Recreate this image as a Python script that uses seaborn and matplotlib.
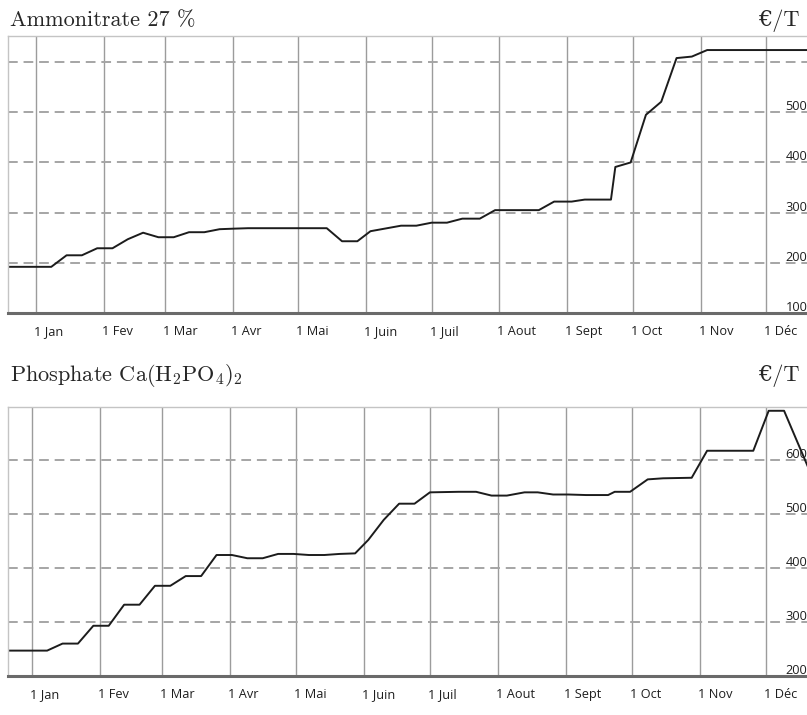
import matplotlib
matplotlib.use('Agg')
import matplotlib.pyplot as plt
import matplotlib.dates as mdates
from matplotlib.transforms import ScaledTranslation
import seaborn as sns
import pandas as pd

# Prix Ammonitrate 27 % (€/T)
ammo_dates = ['2020-12-10', '2021-01-08', '2021-01-15', '2021-01-22', '2021-01-29', '2021-02-05',
              '2021-02-12', '2021-02-19', '2021-02-26', '2021-03-05', '2021-03-12', '2021-03-19',
              '2021-03-26', '2021-04-01', '2021-04-08', '2021-05-14', '2021-05-21', '2021-05-28',
              '2021-06-03', '2021-06-17', '2021-06-24', '2021-07-01', '2021-07-08', '2021-07-15',
              '2021-07-23', '2021-07-30', '2021-08-19', '2021-08-26', '2021-09-03', '2021-09-09',
              '2021-09-21', '2021-09-23', '2021-09-30', '2021-10-07', '2021-10-14', '2021-10-21',
              '2021-10-28', '2021-11-04', '2021-12-31']
ammo_values = [192, 192, 215, 215, 229, 229,
               247, 260, 251, 251, 261, 261,
               267, 268, 269, 269, 243, 243,
               263, 274, 274, 280, 280, 288,
               288, 305, 305, 322, 322, 326,
               326, 391, 400, 495, 521, 608,
               611, 624, 624]

# Prix Phosphate Ca(H2PO4)2 (€/T)
phos_dates = ['2020-12-10', '2021-01-08', '2021-01-15', '2021-01-22', '2021-01-29', '2021-02-05',
              '2021-02-12', '2021-02-19', '2021-02-26', '2021-03-05', '2021-03-12', '2021-03-19',
              '2021-03-26', '2021-04-02', '2021-04-09', '2021-04-16', '2021-04-23', '2021-04-30',
              '2021-05-07', '2021-05-14', '2021-05-21', '2021-05-28', '2021-06-03', '2021-06-10',
              '2021-06-17', '2021-06-24', '2021-07-01', '2021-07-14', '2021-07-22', '2021-07-29',
              '2021-08-05', '2021-08-13', '2021-08-19', '2021-08-26', '2021-09-02', '2021-09-10',
              '2021-09-20', '2021-09-23', '2021-09-30', '2021-10-08', '2021-10-15', '2021-10-28',
              '2021-11-04', '2021-11-25', '2021-12-02', '2021-12-09', '2021-12-23']
phos_values = [247, 247, 260, 260, 293, 293,
               332, 332, 367, 367, 385, 385,
               424, 424, 418, 418, 426, 426,
               424, 424, 426, 427, 452, 489,
               519, 519, 540, 541, 541, 534,
               534, 540, 540, 536, 536, 535,
               535, 541, 541, 564, 566, 567,
               617, 617, 691, 691, 557]

month_labels = ['Jan', 'Fev', 'Mar', 'Avr', 'Mai', 'Juin', 'Juil', 'Aout', 'Sept', 'Oct', 'Nov', 'Déc']
ammo_yticks = [100, 200, 300, 400, 500, 600]
ammo_ylabels = ['100', '200', '300', '400', '500', '']
phos_yticks = [200, 300, 400, 500, 600]
phos_ylabels = ['200', '300', '400', '500', '600']

sns.set_style('white')
plt.rcParams['font.family'] = ['Open Sans', 'DejaVu Sans']
plt.rcParams['mathtext.fontset'] = 'cm'

W, H = 807, 715
fig = plt.figure(figsize=(W / 100, H / 100), dpi=100)


def panel(rect, dates, values, xlim, ylim, yticks, ylabels):
    ax = fig.add_axes(rect)
    df = pd.DataFrame({'date': pd.to_datetime(dates), 'prix': values})
    sns.lineplot(data=df, x='date', y='prix', ax=ax, color='#1c1c1c', lw=1.4)
    ax.set_xlim(pd.to_datetime(xlim[0]), pd.to_datetime(xlim[1]))
    ax.set_ylim(*ylim)
    ax.set_xlabel('')
    ax.set_ylabel('')

    # mois
    ax.xaxis.set_major_locator(mdates.MonthLocator(bymonthday=1))
    ax.xaxis.set_major_formatter(plt.FuncFormatter(
        lambda v, p: '1 ' + month_labels[mdates.num2date(v).month - 1]))
    ax.grid(axis='x', color='#9c9c9c', lw=1.0, ls='-')
    ax.tick_params(axis='x', direction='out', length=5, width=1.0, color='#8a8a8a',
                   labelsize=9.2, labelcolor='#1e1e1e', pad=3)
    for lbl in ax.get_xticklabels():
        lbl.set_horizontalalignment('left')
        lbl.set_verticalalignment('baseline')
        lbl.set_transform(lbl.get_transform() + ScaledTranslation(-2 / 100, -11 / 100, fig.dpi_scale_trans))

    # prix
    ax.set_yticks(yticks)
    ax.set_yticklabels(ylabels)
    ax.grid(axis='y', color='#a5a5a5', lw=1.4, ls=(0, (5, 3)))
    ax.yaxis.tick_right()
    ax.tick_params(axis='y', length=0, labelsize=9.2, labelcolor='#1e1e1e', pad=-15.5)
    for lbl in ax.get_yticklabels():
        lbl.set_verticalalignment('baseline')
        lbl.set_transform(lbl.get_transform() + ScaledTranslation(0, 2 / 100, fig.dpi_scale_trans))

    for side in ['top', 'left']:
        ax.spines[side].set_color('#c4c4c4')
        ax.spines[side].set_linewidth(1.0)
    ax.spines['right'].set_visible(False)
    ax.spines['bottom'].set_color('#6a6a6a')
    ax.spines['bottom'].set_linewidth(2.2)
    return ax


panel([8 / W, 1 - 313 / H, 799 / W, (313 - 36) / H], ammo_dates, ammo_values,
      ('2020-12-19 05:00', '2021-12-19 16:00'), (100, 652), ammo_yticks, ammo_ylabels)
panel([8 / W, 1 - 676 / H, 799 / W, (676 - 407) / H], phos_dates, phos_values,
      ('2020-12-21 05:00', '2021-12-19 10:00'), (200, 698), phos_yticks, phos_ylabels)

title_font = ['cmr10', 'DejaVu Serif']
fig.text(10 / W, 1 - 26 / H, 'Ammonitrate 27 %', family=title_font, size=16, va='baseline')
fig.text(800 / W, 1 - 26 / H, '€/T', family=title_font, size=16, va='baseline', ha='right')
fig.text(10 / W, 1 - 381 / H, r'Phosphate Ca(H$_2$PO$_4$)$_2$', family=title_font, size=16, va='baseline')
fig.text(800 / W, 1 - 381 / H, '€/T', family=title_font, size=16, va='baseline', ha='right')

fig.savefig('out.png', dpi=100)
